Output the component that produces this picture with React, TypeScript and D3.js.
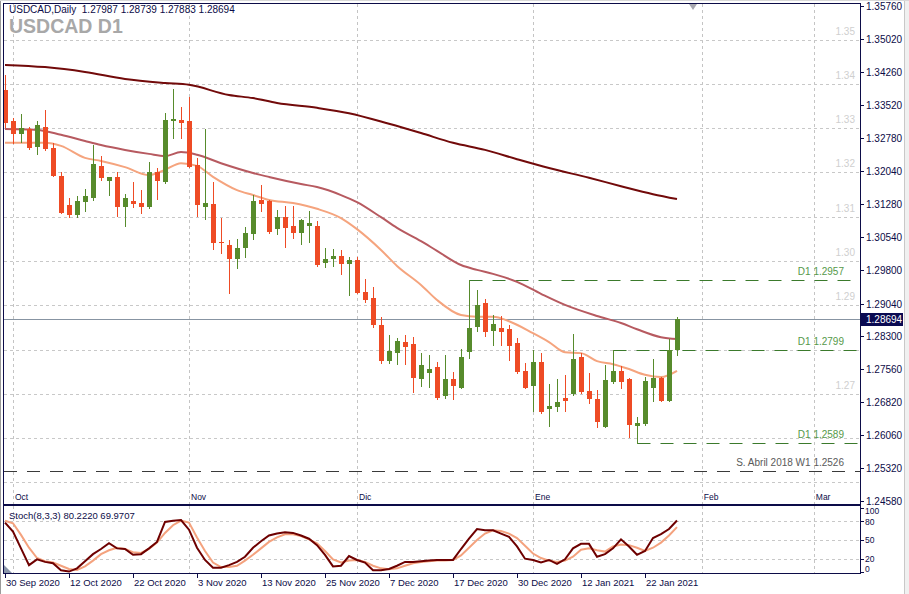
import React from 'react';
import * as d3 from 'd3';

// ---------- DATA ----------
const opens = [1.3386, 1.3316, 1.3287, 1.3298, 1.3258, 1.3303, 1.3255, 1.3192, 1.3127, 1.3104,
  1.3133, 1.3142, 1.3215, 1.3181, 1.3190, 1.3122, 1.3136, 1.3131, 1.3122, 1.3201,
  1.3178, 1.3316, 1.3319, 1.3316, 1.3217, 1.3122, 1.3129, 1.3043, 1.3036, 1.3005,
  1.3029, 1.3061, 1.3138, 1.3136, 1.3072, 1.3099, 1.3079, 1.3063, 1.3079, 1.3079,
  1.2996, 1.3005, 1.3011, 1.2993, 1.3002, 1.2930, 1.2916, 1.2855, 1.2774, 1.2792,
  1.2817, 1.2813, 1.2733, 1.2747, 1.2761, 1.2695, 1.2733, 1.2713, 1.2794, 1.2851,
  1.2905, 1.2842, 1.2849, 1.2846, 1.2815, 1.2752, 1.2718, 1.2772, 1.2666, 1.2670,
  1.2690, 1.2700, 1.2783, 1.2706, 1.2688, 1.2625, 1.2727, 1.2752, 1.2733, 1.2627,
  1.2632, 1.2713, 1.2736, 1.2684, 1.27987];
const highs = [1.3420, 1.3323, 1.3332, 1.3303, 1.3316, 1.3341, 1.3267, 1.3201, 1.3142, 1.3147,
  1.3163, 1.3262, 1.3237, 1.3190, 1.3201, 1.3151, 1.3179, 1.3160, 1.3224, 1.3210,
  1.3334, 1.3389, 1.3348, 1.3371, 1.3233, 1.3298, 1.3179, 1.3097, 1.3047, 1.3050,
  1.3077, 1.3149, 1.3172, 1.3138, 1.3115, 1.3124, 1.3124, 1.3095, 1.3113, 1.3090,
  1.3029, 1.3027, 1.3025, 1.3009, 1.3009, 1.2959, 1.2941, 1.2874, 1.2833, 1.2826,
  1.2833, 1.2828, 1.2792, 1.2788, 1.2772, 1.2788, 1.2749, 1.2801, 1.2957, 1.2935,
  1.2914, 1.2878, 1.2876, 1.2855, 1.2826, 1.2770, 1.2799, 1.2792, 1.2722, 1.2733,
  1.2743, 1.2835, 1.2792, 1.2747, 1.2709, 1.2765, 1.2799, 1.2763, 1.2736, 1.2648,
  1.2738, 1.2779, 1.2738, 1.2824, 1.28739];
const lows = [1.3303, 1.3267, 1.3269, 1.3253, 1.3242, 1.3251, 1.3192, 1.3108, 1.3099, 1.3099,
  1.3113, 1.3138, 1.3183, 1.3149, 1.3102, 1.3079, 1.3122, 1.3108, 1.3120, 1.3140,
  1.3176, 1.3278, 1.3278, 1.3212, 1.3102, 1.3095, 1.3027, 1.3018, 1.2928, 1.2984,
  1.3009, 1.3050, 1.3113, 1.3063, 1.3061, 1.3032, 1.3052, 1.3038, 1.3043, 1.2989,
  1.2986, 1.2989, 1.2971, 1.2923, 1.2928, 1.2907, 1.2851, 1.2770, 1.2770, 1.2767,
  1.2767, 1.2704, 1.2718, 1.2715, 1.2688, 1.2691, 1.2688, 1.2713, 1.2781, 1.2842,
  1.2831, 1.2810, 1.2810, 1.2776, 1.2747, 1.2713, 1.2661, 1.2657, 1.2627, 1.2661,
  1.2661, 1.2697, 1.2702, 1.2679, 1.2625, 1.2625, 1.2724, 1.2713, 1.2602, 1.2589,
  1.2630, 1.2684, 1.2684, 1.2684, 1.27883];
const closes = [1.3312, 1.3287, 1.3300, 1.3255, 1.3307, 1.3253, 1.3192, 1.3108, 1.3104, 1.3136,
  1.3147, 1.3219, 1.3188, 1.3190, 1.3122, 1.3142, 1.3129, 1.3122, 1.3201, 1.3181,
  1.3319, 1.3321, 1.3312, 1.3212, 1.3127, 1.3131, 1.3041, 1.3041, 1.3005, 1.3029,
  1.3063, 1.3136, 1.3129, 1.3066, 1.3099, 1.3075, 1.3063, 1.3093, 1.3086, 1.2991,
  1.3005, 1.3011, 1.2993, 1.3002, 1.2928, 1.2912, 1.2855, 1.2774, 1.2797, 1.2819,
  1.2806, 1.2736, 1.2765, 1.2756, 1.2691, 1.2733, 1.2718, 1.2783, 1.2849, 1.2901,
  1.2840, 1.2858, 1.2840, 1.2808, 1.2749, 1.2713, 1.2772, 1.2659, 1.2672, 1.2682,
  1.2684, 1.2779, 1.2704, 1.2688, 1.2636, 1.2731, 1.2752, 1.2727, 1.2630, 1.2634,
  1.2729, 1.2736, 1.2684, 1.2799, 1.28694];

// moving averages, read at sampled bars
const maSlowIdx = [0, 5, 10, 15, 20, 23, 28, 31, 34, 39, 43, 48, 52, 56, 60, 64, 68, 73, 77, 81, 84];
const maSlowVal = [1.3443, 1.3438, 1.3427, 1.3411, 1.3402, 1.3398, 1.3375, 1.3368, 1.3357, 1.3346, 1.3334,
  1.3310, 1.3289, 1.3267, 1.3251, 1.3230, 1.3210, 1.3188, 1.3169, 1.3151, 1.3140];
const maMidIdx = [0, 4, 7, 10, 12, 15, 18, 20, 22, 24, 27, 31, 33, 37, 39, 42, 44, 47, 49, 52, 54, 57,
  59, 61, 64, 67, 70, 74, 77, 79, 82, 84];
const maMidVal = [1.3298, 1.3296, 1.3285, 1.3271, 1.3262, 1.3251, 1.3242, 1.3237, 1.3246, 1.3240, 1.3221,
  1.3199, 1.3190, 1.3174, 1.3167, 1.3149, 1.3133, 1.3099, 1.3075, 1.3045, 1.3023, 1.2991, 1.2980, 1.2971,
  1.2953, 1.2926, 1.2901, 1.2876, 1.2860, 1.2846, 1.2828, 1.2824];
const maFastIdx = [0, 5, 7, 10, 12, 15, 18, 20, 22, 24, 26, 29, 31, 33, 36, 39, 42, 44, 47, 49, 52, 54,
  57, 59, 61, 63, 66, 68, 70, 72, 74, 76, 78, 80, 82, 84];
const maFastVal = [1.3267, 1.3267, 1.3260, 1.3233, 1.3226, 1.3212, 1.3194, 1.3206, 1.3221, 1.3215, 1.3190,
  1.3160, 1.3149, 1.3138, 1.3131, 1.3118, 1.3097, 1.3072, 1.3025, 1.2989, 1.2946, 1.2912, 1.2878, 1.2874,
  1.2874, 1.2864, 1.2837, 1.2817, 1.2794, 1.2792, 1.2774, 1.2767, 1.2756, 1.2743, 1.2738, 1.2752];

const stochK = [77, 63, 37, 11, 20, 16, 14, 3, 1, 6,
  17, 28, 36, 45, 37, 36, 27, 28, 37, 47,
  78, 80, 81, 66, 38, 19, 7, 7, 11, 16,
  24, 38, 48, 57, 60, 62, 61, 57, 52, 42,
  27, 9, 10, 25, 19, 15, 3, 3, 5, 10,
  16, 16, 17, 18, 19, 19, 19, 36, 52, 67,
  65, 65, 60, 55, 40, 21, 19, 15, 19, 13,
  20, 37, 44, 44, 24, 28, 37, 51, 40, 27,
  33, 53, 59, 67, 80.222];
const stochD = [80, 76, 58, 38, 22, 17, 15, 10, 5, 3.5,
  9, 18, 28, 34, 38, 36, 31, 30, 36, 46,
  61, 73, 80, 77, 54, 33, 15, 8, 8, 10,
  18, 27, 37, 47, 54, 59, 59, 56, 51, 45,
  33, 20, 15, 18, 19, 16, 10, 6, 4.5, 6,
  10, 14, 16, 17, 18, 18, 19, 26, 38, 50,
  60, 65, 64, 60, 53, 41, 29, 22, 18, 16,
  18, 24, 35, 37, 34, 32, 40, 43, 42, 38,
  33, 38, 46, 57, 69.9707];

const priceTicks = [1.35760, 1.35020, 1.34260, 1.33520, 1.32780, 1.32040, 1.31280, 1.30540, 1.29800,
  1.29040, 1.28300, 1.27560, 1.26820, 1.26060, 1.25320, 1.24580];
const gridLevels = [1.25, 1.26, 1.27, 1.28, 1.29, 1.30, 1.31, 1.32, 1.33, 1.34, 1.35];
const gridLabels = ['1.35', '1.34', '1.33', '1.32', '1.31', '1.30', '1.29', '1.27'];
const stochTicks = [100, 80, 50, 20, 0];
const stochGrid = [80, 50, 20];

const dateLabels = ['30 Sep 2020', '12 Oct 2020', '22 Oct 2020', '3 Nov 2020', '13 Nov 2020', '25 Nov 2020',
  '7 Dec 2020', '17 Dec 2020', '30 Dec 2020', '12 Jan 2021', '22 Jan 2021'];
const dateIdx = [0, 8, 16, 24, 32, 40, 48, 56, 64, 72, 80];
const monthLabels = ['Oct', 'Nov', 'Dic', 'Ene', 'Feb', 'Mar'];
const monthIdx = [1, 23, 44, 66, 87.1, 101.1];

const levelLabels = ['D1 1.2957', 'D1 1.2799', 'D1 1.2589', 'S. Abril 2018 W1 1.2526'];
const levelValues = [1.2957, 1.2799, 1.2589, 1.2526];
const levelStart = [58, 76, 79, -1];
const levelKind = ['d1', 'd1', 'd1', 'w1'];

const symbolTitle = 'USDCAD,Daily';
const bigTitle = 'USDCAD D1';
const stochTitle = 'Stoch(8,3,3) 80.2220 69.9707';
const currentPrice = 1.28694;

// ---------- STYLE ----------
const FONT = '"Liberation Sans", Arial, sans-serif';
const NAVY = '#0c0c48';
const BULL = '#578b2c';
const BEAR = '#ee4b25';

export default function App() {
  const L = 4, R = 860, T = 4, MB = 504, ST = 506, SB = 573;
  const xs = d3.scaleLinear().domain([0, 106]).range([5, 853]);
  const y = d3.scaleLinear().domain([1.2458, 1.3576]).range([501, 6]);
  const ys = d3.scaleLinear().domain([0, 100]).range([572.2, 507.8]);

  const maLine = (idx: number[], val: number[]) =>
    d3.line<number>().x((_, k) => xs(idx[k])).y((v) => y(v)).curve(d3.curveMonotoneX)(val) || '';
  const stLine = d3.line<number>().x((_, k) => xs(k)).y((v) => ys(v));

  const cx = (i: number) => Math.round(xs(i)) + 0.5;
  const fmt = d3.format('.5f');

  return (
    <svg width={909} height={594} style={{ position: 'absolute', left: 0, top: 0, background: '#fff' }}
      fontFamily={FONT}>
      <defs>
        <clipPath id="mainClip"><rect x={L} y={T} width={R - L} height={MB - T} /></clipPath>
        <clipPath id="stClip"><rect x={L} y={ST} width={R - L} height={SB - ST} /></clipPath>
      </defs>
      <rect x={0} y={0} width={909} height={594} fill="#fff" />
      <rect x={904} y={0} width={5} height={594} fill="#f0f0f0" />
      <line x1={904.5} x2={904.5} y1={0} y2={594} stroke="#c8c8c8" />
      <line x1={0.5} x2={0.5} y1={0} y2={594} stroke="#9a9a9a" />
      <line x1={0} x2={909} y1={0.5} y2={0.5} stroke="#d8d8d8" />

      {/* vertical month grid */}
      {monthIdx.map((m, k) => (
        <g key={'m' + k}>
          <line x1={Math.round(xs(m)) + 0.5} x2={Math.round(xs(m)) + 0.5} y1={T} y2={MB}
            stroke="#c4c4c4" strokeDasharray="3,3" />
          <line x1={Math.round(xs(m)) + 0.5} x2={Math.round(xs(m)) + 0.5} y1={ST} y2={SB}
            stroke="#c4c4c4" strokeDasharray="3,3" />
          <text x={xs(m) + 2} y={500} fontSize={8.5} fill={NAVY}>{monthLabels[k]}</text>
        </g>
      ))}
      {/* horizontal grid main */}
      {gridLevels.map((g) => (
        <line key={'g' + g} x1={L} x2={R} y1={Math.round(y(g)) + 0.5} y2={Math.round(y(g)) + 0.5}
          stroke="#c8c8c8" strokeDasharray="3,3" />
      ))}
      {gridLabels.map((g) => (
        <text key={'gl' + g} x={855} y={y(+g) - 5} fontSize={10} fill="#cfcfcf" textAnchor="end">{g}</text>
      ))}
      {/* stoch grid */}
      {stochGrid.map((g) => (
        <line key={'sg' + g} x1={L} x2={R} y1={Math.round(ys(g)) + 0.5} y2={Math.round(ys(g)) + 0.5}
          stroke="#c8c8c8" strokeDasharray="3,3" />
      ))}

      {/* titles */}
      <text x={9} y={33} fontSize={19.5} fontWeight="bold" fill="#a8a8a8">{bigTitle}</text>
      <text x={9} y={13} fontSize={10} fill={NAVY} style={{ whiteSpace: 'pre' }}>
        {symbolTitle + '  ' + [opens[84], highs[84], lows[84], closes[84]].map(fmt).join(' ')}
      </text>

      {/* levels */}
      {levelValues.map((v, k) => {
        const yy = Math.round(y(v)) + 0.5;
        const x0 = levelStart[k] < 0 ? L : cx(levelStart[k]);
        const green = levelKind[k] === 'd1';
        return (
          <g key={'lv' + k}>
            <line x1={x0} x2={R} y1={yy} y2={yy} stroke={green ? '#3b7a2c' : '#3a3a3a'}
              strokeDasharray="13,10" />
            <text x={844} y={yy - 6} fontSize={10} textAnchor="end" fill={green ? '#56994a' : '#5a5a5a'}>
              {levelLabels[k]}
            </text>
          </g>
        );
      })}

      {/* current price line */}
      <line x1={L} x2={R} y1={Math.round(y(currentPrice)) + 0.5} y2={Math.round(y(currentPrice)) + 0.5}
        stroke="#8794a2" />

      <g clipPath="url(#mainClip)">
        {/* moving averages */}
        <path d={maLine(maSlowIdx, maSlowVal)} fill="none" stroke="#720a0a" strokeWidth={2} />
        <path d={maLine(maMidIdx, maMidVal)} fill="none" stroke="#b75a60" strokeWidth={2} />
        <path d={maLine(maFastIdx, maFastVal)} fill="none" stroke="#f5a47e" strokeWidth={2} />
        {/* candles */}
        {opens.map((o, i) => {
          const c = closes[i];
          const up = c >= o;
          const col = up ? BULL : BEAR;
          const top = Math.round(y(Math.max(o, c)));
          const bot = Math.round(y(Math.min(o, c)));
          const x = cx(i);
          return (
            <g key={'c' + i}>
              <line x1={x} x2={x} y1={Math.round(y(highs[i]))} y2={Math.round(y(lows[i])) + 1} stroke={col} />
              <rect x={x - 2.5} y={top} width={5} height={Math.max(1, bot - top)} fill={col} />
            </g>
          );
        })}
      </g>

      {/* stochastic */}
      <g clipPath="url(#stClip)">
        <path d={stLine(stochD) || ''} fill="none" stroke="#f4a27e" strokeWidth={2} />
        <path d={stLine(stochK) || ''} fill="none" stroke="#6e0000" strokeWidth={2} />
        <path d={`M${L},${SB - 8} L${L + 8},${SB} L${L},${SB} Z`} fill="#8a96aa" />
      </g>
      <text x={9} y={519} fontSize={9.5} fill={NAVY}>{stochTitle}</text>

      {/* frames */}
      <rect x={3.5} y={3.5} width={R - 3} height={MB - 3} fill="none" stroke={NAVY} />
      <line x1={3} x2={R + 1} y1={505} y2={505} stroke={NAVY} strokeWidth={2} />
      <line x1={3.5} x2={3.5} y1={505} y2={SB} stroke={NAVY} />
      <line x1={3} x2={R + 1} y1={SB + 0.5} y2={SB + 0.5} stroke={NAVY} />
      <line x1={R + 0.5} x2={R + 0.5} y1={3} y2={SB + 1} stroke={NAVY} />

      {/* shift marker */}
      <path d={`M${xs(86) - 4},4 L${xs(86) + 4},4 L${xs(86)},10 Z`} fill="#a8a8b0" />

      {/* price axis */}
      {priceTicks.map((p) => {
        const yy = Math.round(y(p)) + 0.5;
        return (
          <g key={'pt' + p}>
            <line x1={R} x2={R + 4} y1={yy} y2={yy} stroke={NAVY} />
            <text x={866} y={yy + 3.5} fontSize={10} fill={NAVY}>{fmt(p)}</text>
          </g>
        );
      })}
      <rect x={861} y={Math.round(y(currentPrice)) - 6} width={42} height={13} fill="#0a0a52" />
      <text x={866} y={Math.round(y(currentPrice)) + 4} fontSize={10} fill="#fff">{fmt(currentPrice)}</text>

      {/* stoch axis */}
      {stochTicks.map((s) => {
        const yy = s === 100 ? 511 : s === 0 ? 568.5 : s === 80 ? 521.5 : ys(s);
        return (
          <g key={'st' + s}>
            <line x1={R} x2={R + 4} y1={Math.round(ys(s)) + 0.5} y2={Math.round(ys(s)) + 0.5} stroke={NAVY} />
            <text x={865} y={yy + 3} fontSize={8.5} fill={NAVY}>{s}</text>
          </g>
        );
      })}

      {/* date axis */}
      {dateIdx.map((d, k) => (
        <g key={'d' + k}>
          <line x1={cx(d)} x2={cx(d)} y1={SB} y2={SB + 5} stroke={NAVY} />
          <text x={xs(d) + 1} y={586} fontSize={9.5} fill={NAVY}>{dateLabels[k]}</text>
        </g>
      ))}
    </svg>
  );
}
